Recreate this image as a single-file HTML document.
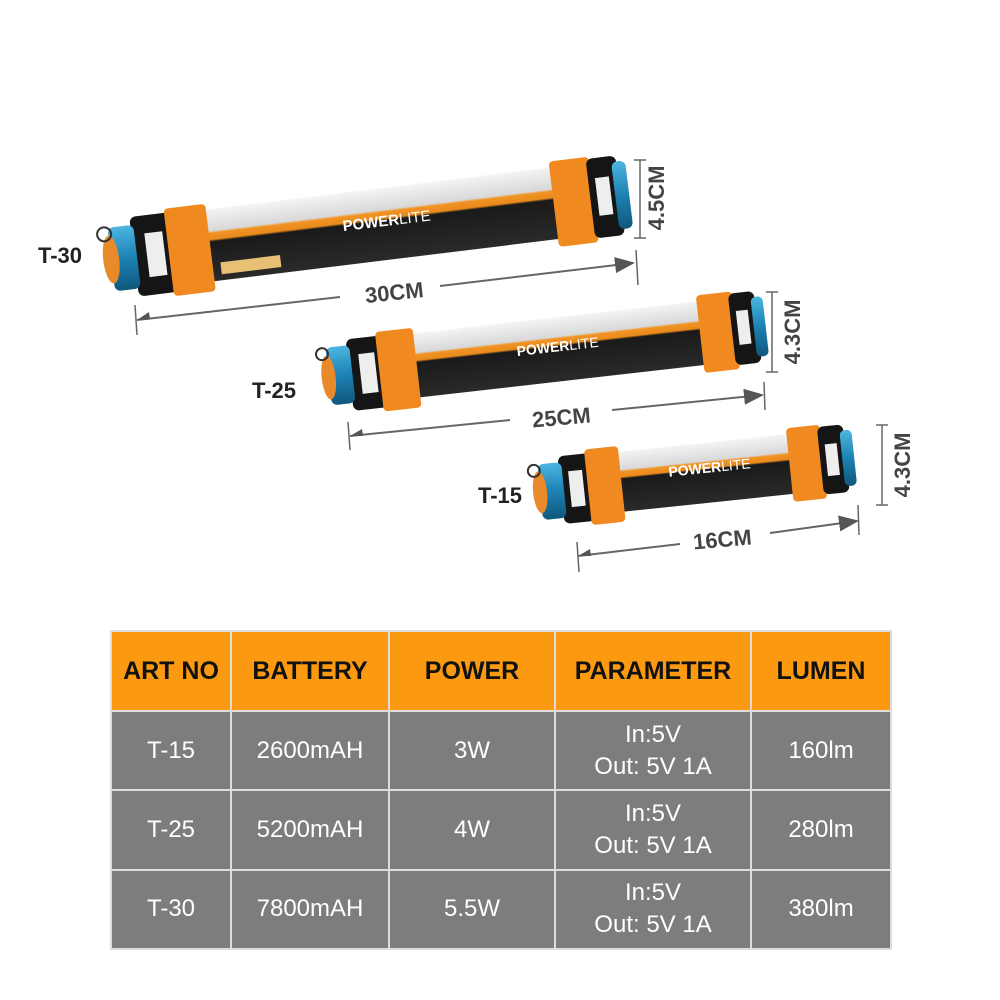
<!DOCTYPE html>
<html><head><meta charset="utf-8"><style>
body{margin:0;width:1000px;height:1000px;background:#fff;overflow:hidden;font-family:"Liberation Sans",sans-serif;position:relative}
table{position:absolute;left:110px;top:630px;width:780px;height:320px;border-collapse:collapse;text-align:center;table-layout:fixed}
td,th{border:2px solid #ddd;padding:0}
th{background:#fb9a10;color:#111;font-size:25px;font-weight:bold;height:78px}
td{background:#7d7d7d;color:#fff;font-size:24px;line-height:32px}
</style></head><body>
<svg width="1000" height="620" style="position:absolute;left:0;top:0">
<defs>
<linearGradient id="bd" x1="0" y1="0" x2="0" y2="1">
<stop offset="0" stop-color="#f4f4f4"/><stop offset="0.3" stop-color="#d8d8d8"/><stop offset="0.33" stop-color="#f29424"/><stop offset="0.42" stop-color="#e88a1c"/><stop offset="0.45" stop-color="#1a1a1a"/><stop offset="1" stop-color="#2a2a2a"/></linearGradient>
<linearGradient id="bl" x1="0" y1="0" x2="0" y2="1"><stop offset="0" stop-color="#4cb6e0"/><stop offset="0.5" stop-color="#1d82b4"/><stop offset="1" stop-color="#10577c"/></linearGradient>
<marker id="ar" markerWidth="10" markerHeight="8" refX="9" refY="4" orient="auto"><path d="M0,0L10,4L0,8z" fill="#555"/></marker>
</defs>
<style>.lb{font-weight:bold;font-size:22px;fill:#222}.dm{font-weight:bold;font-size:22px;fill:#444}</style>

<!-- T-30 -->
<g transform="translate(377,225) rotate(-7)">
<rect x="-215" y="-36" width="445" height="72" fill="url(#bd)"/>
<rect x="-245" y="-38" width="45" height="80" rx="6" fill="#151515"/>
<rect x="-232" y="-20" width="18" height="44" fill="#eee"/>
<rect x="-210" y="-42" width="42" height="88" rx="4" fill="#f08a20"/>
<rect x="178" y="-42" width="40" height="86" rx="4" fill="#f08a20"/>
<rect x="215" y="-40" width="30" height="80" rx="6" fill="#151515"/>
<rect x="222" y="-20" width="14" height="38" fill="#eee"/>
<rect x="240" y="-34" width="14" height="68" rx="6" fill="url(#bl)"/>
<rect x="-268" y="-30" width="26" height="64" rx="6" fill="url(#bl)"/>
<ellipse cx="-268" cy="2" rx="8" ry="24" fill="#e8892a"/>
<circle cx="-272" cy="-24" r="7" fill="none" stroke="#333" stroke-width="2"/>
<text x="10" y="2" font-size="15" fill="#fff" font-weight="bold" text-anchor="middle">POWER<tspan font-weight="normal">LITE</tspan></text>
<rect x="-160" y="18" width="60" height="12" fill="#e7c076"/>
</g>
<text class="lb" x="38" y="263">T-30</text>
<line x1="137" y1="320" x2="340" y2="297" stroke="#666" stroke-width="2"/>
<path d="M137,320 l12,-8 l1,7z" fill="#555"/>
<line x1="440" y1="286" x2="633" y2="263" stroke="#666" stroke-width="2" marker-end="url(#ar)"/>
<line x1="636" y1="250" x2="638" y2="285" stroke="#666" stroke-width="1.5"/>
<line x1="135" y1="305" x2="137" y2="335" stroke="#666" stroke-width="1.5"/>
<text class="dm" x="395" y="300" text-anchor="middle" transform="rotate(-6 395 300)">30CM</text>
<line x1="640" y1="160" x2="640" y2="238" stroke="#666" stroke-width="1.5"/>
<line x1="634" y1="160" x2="646" y2="160" stroke="#666" stroke-width="1.5"/><line x1="634" y1="238" x2="646" y2="238" stroke="#666" stroke-width="1.5"/>
<text class="dm" text-anchor="middle" transform="translate(664,198) rotate(-90)">4.5CM</text>

<!-- T-25 -->
<g transform="translate(553,350) rotate(-6.5)">
<rect x="-180" y="-32" width="375" height="64" fill="url(#bd)"/>
<rect x="-205" y="-34" width="40" height="72" rx="6" fill="#151515"/>
<rect x="-194" y="-18" width="16" height="40" fill="#eee"/>
<rect x="-175" y="-38" width="38" height="80" rx="4" fill="#f08a20"/>
<rect x="148" y="-38" width="36" height="78" rx="4" fill="#f08a20"/>
<rect x="180" y="-36" width="26" height="72" rx="6" fill="#151515"/>
<rect x="186" y="-18" width="12" height="34" fill="#eee"/>
<rect x="202" y="-30" width="12" height="60" rx="5" fill="url(#bl)"/>
<rect x="-226" y="-28" width="24" height="58" rx="6" fill="url(#bl)"/>
<ellipse cx="-226" cy="2" rx="7" ry="22" fill="#e8892a"/>
<circle cx="-230" cy="-22" r="6" fill="none" stroke="#333" stroke-width="2"/>
<text x="5" y="2" font-size="14" fill="#fff" font-weight="bold" text-anchor="middle">POWER<tspan font-weight="normal">LITE</tspan></text>
</g>
<text class="lb" x="252" y="398">T-25</text>
<line x1="350" y1="436" x2="510" y2="420" stroke="#666" stroke-width="2"/>
<path d="M350,436 l12,-7 l1,7z" fill="#555"/>
<line x1="612" y1="410" x2="762" y2="395" stroke="#666" stroke-width="2" marker-end="url(#ar)"/>
<line x1="348" y1="422" x2="350" y2="450" stroke="#666" stroke-width="1.5"/>
<line x1="764" y1="382" x2="765" y2="410" stroke="#666" stroke-width="1.5"/>
<text class="dm" x="562" y="425" text-anchor="middle" transform="rotate(-5 562 425)">25CM</text>
<line x1="772" y1="292" x2="772" y2="372" stroke="#666" stroke-width="1.5"/>
<line x1="766" y1="292" x2="778" y2="292" stroke="#666" stroke-width="1.5"/><line x1="766" y1="372" x2="778" y2="372" stroke="#666" stroke-width="1.5"/>
<text class="dm" text-anchor="middle" transform="translate(800,332) rotate(-90)">4.3CM</text>

<!-- T-15 -->
<g transform="translate(705,473) rotate(-6)">
<rect x="-125" y="-30" width="255" height="60" fill="url(#bd)"/>
<rect x="-145" y="-32" width="36" height="68" rx="6" fill="#151515"/>
<rect x="-136" y="-16" width="14" height="36" fill="#eee"/>
<rect x="-118" y="-36" width="34" height="76" rx="4" fill="#f08a20"/>
<rect x="85" y="-36" width="34" height="74" rx="4" fill="#f08a20"/>
<rect x="116" y="-34" width="26" height="68" rx="6" fill="#151515"/>
<rect x="122" y="-16" width="12" height="32" fill="#eee"/>
<rect x="138" y="-28" width="12" height="56" rx="5" fill="url(#bl)"/>
<rect x="-166" y="-26" width="24" height="56" rx="6" fill="url(#bl)"/>
<ellipse cx="-166" cy="2" rx="7" ry="21" fill="#e8892a"/>
<circle cx="-170" cy="-20" r="6" fill="none" stroke="#333" stroke-width="2"/>
<text x="5" y="0" font-size="14" fill="#fff" font-weight="bold" text-anchor="middle">POWER<tspan font-weight="normal">LITE</tspan></text>
</g>
<text class="lb" x="478" y="503">T-15</text>
<line x1="578" y1="556" x2="680" y2="544" stroke="#666" stroke-width="2"/>
<path d="M578,556 l12,-7 l1,7z" fill="#555"/>
<line x1="770" y1="533" x2="857" y2="521" stroke="#666" stroke-width="2" marker-end="url(#ar)"/>
<line x1="577" y1="542" x2="579" y2="572" stroke="#666" stroke-width="1.5"/>
<line x1="858" y1="505" x2="859" y2="535" stroke="#666" stroke-width="1.5"/>
<text class="dm" x="723" y="547" text-anchor="middle" transform="rotate(-5 723 547)">16CM</text>
<line x1="882" y1="425" x2="882" y2="505" stroke="#666" stroke-width="1.5"/>
<line x1="876" y1="425" x2="888" y2="425" stroke="#666" stroke-width="1.5"/><line x1="876" y1="505" x2="888" y2="505" stroke="#666" stroke-width="1.5"/>
<text class="dm" text-anchor="middle" transform="translate(910,465) rotate(-90)">4.3CM</text>
</svg>

<table>
<colgroup><col style="width:120px"><col style="width:158px"><col style="width:166px"><col style="width:196px"><col style="width:140px"></colgroup>
<tr><th>ART NO</th><th>BATTERY</th><th>POWER</th><th>PARAMETER</th><th>LUMEN</th></tr>
<tr><td>T-15</td><td>2600mAH</td><td>3W</td><td>In:5V<br>Out: 5V 1A</td><td>160lm</td></tr>
<tr><td>T-25</td><td>5200mAH</td><td>4W</td><td>In:5V<br>Out: 5V 1A</td><td>280lm</td></tr>
<tr><td>T-30</td><td>7800mAH</td><td>5.5W</td><td>In:5V<br>Out: 5V 1A</td><td>380lm</td></tr>
</table>
</body></html>
